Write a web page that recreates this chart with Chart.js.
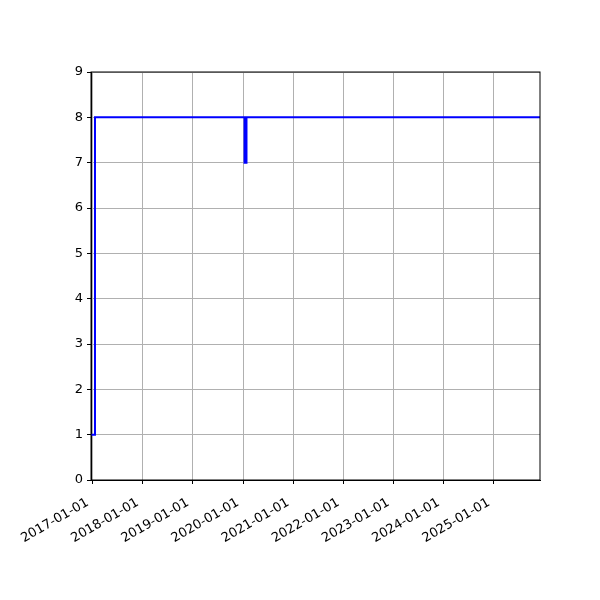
<!DOCTYPE html>
<html>
<head>
<meta charset="utf-8">
<script src="https://cdn.jsdelivr.net/npm/chart.js@4/dist/chart.umd.min.js"></script>
<style>
  html, body { margin: 0; padding: 0; background: #fff; }
  #wrap { width: 600px; height: 600px; }
</style>
</head>
<body>
<div id="wrap"><canvas id="chart" width="600" height="600"></canvas></div>
<script>
// step series: dates where the value changes, and the value held from then on
const changeDates = ['2016-12-20', '2017-01-18', '2020-01-12', '2020-01-26', '2025-12-02'];
const changeValues = [1, 8, 7, 8, 8];
const yearTicks = ['2017-01-01', '2018-01-01', '2019-01-01', '2020-01-01', '2021-01-01',
                   '2022-01-01', '2023-01-01', '2024-01-01', '2025-01-01'];
const yTicks = [0, 1, 2, 3, 4, 5, 6, 7, 8, 9];

function toTime(s) {
    let p = s.split('-');
    return Date.UTC(+p[0], +p[1] - 1, +p[2]);
}

function fmtDate(t) {
    let d = new Date(t);
    let m = String(d.getUTCMonth() + 1).padStart(2, '0');
    let day = String(d.getUTCDate()).padStart(2, '0');
    return `${d.getUTCFullYear()}-${m}-${day}`;
}

let points = changeDates.map((d, i) => ({x: toTime(d), y: changeValues[i]}));

const frameBox = {
    id: 'frameBox',
    afterDraw(chart) {
        let a = chart.chartArea;
        let ctx = chart.ctx;
        ctx.save();
        ctx.strokeStyle = '#000';
        ctx.lineWidth = 1;
        ctx.strokeRect(a.left, a.top, a.right - a.left, a.bottom - a.top);
        ctx.restore();
    }
};

const font = {family: 'DejaVu Sans', size: 13};

let ctx = document.getElementById('chart').getContext('2d');
let myChart = new Chart(ctx, {
    type: 'line',
    data: {
        datasets: [{
            data: points,
            borderColor: '#0000ff',
            borderWidth: 2,
            stepped: true,
            pointRadius: 0,
            fill: false
        }]
    },
    options: {
        responsive: false,
        animation: false,
        layout: {padding: {left: 0, top: 72, right: 60, bottom: 0}},
        plugins: {legend: {display: false}, tooltip: {enabled: false}},
        scales: {
            x: {
                type: 'linear',
                min: toTime(changeDates[0]),
                max: toTime(changeDates[changeDates.length - 1]),
                afterBuildTicks: (scale) => {
                    scale.ticks = yearTicks.map(d => ({value: toTime(d)}));
                },
                afterFit: (scale) => { scale.height = 120; },
                ticks: {
                    callback: (v) => fmtDate(v),
                    color: '#000',
                    font: font,
                    minRotation: 30,
                    maxRotation: 30,
                    autoSkip: false,
                    padding: 11,
                    labelOffset: -5
                },
                grid: {color: '#b0b0b0', lineWidth: 1, tickColor: '#000', tickLength: 4},
                border: {color: '#000', width: 1}
            },
            y: {
                min: 0,
                max: 9,
                afterBuildTicks: (scale) => {
                    scale.ticks = yTicks.map(v => ({value: v}));
                },
                afterFit: (scale) => { scale.width = 91; },
                ticks: {color: '#000', font: font, padding: 4},
                grid: {color: '#b0b0b0', lineWidth: 1, tickColor: '#000', tickLength: 4},
                border: {color: '#000', width: 1}
            }
        }
    },
    plugins: [frameBox]
});
</script>
</body>
</html>
